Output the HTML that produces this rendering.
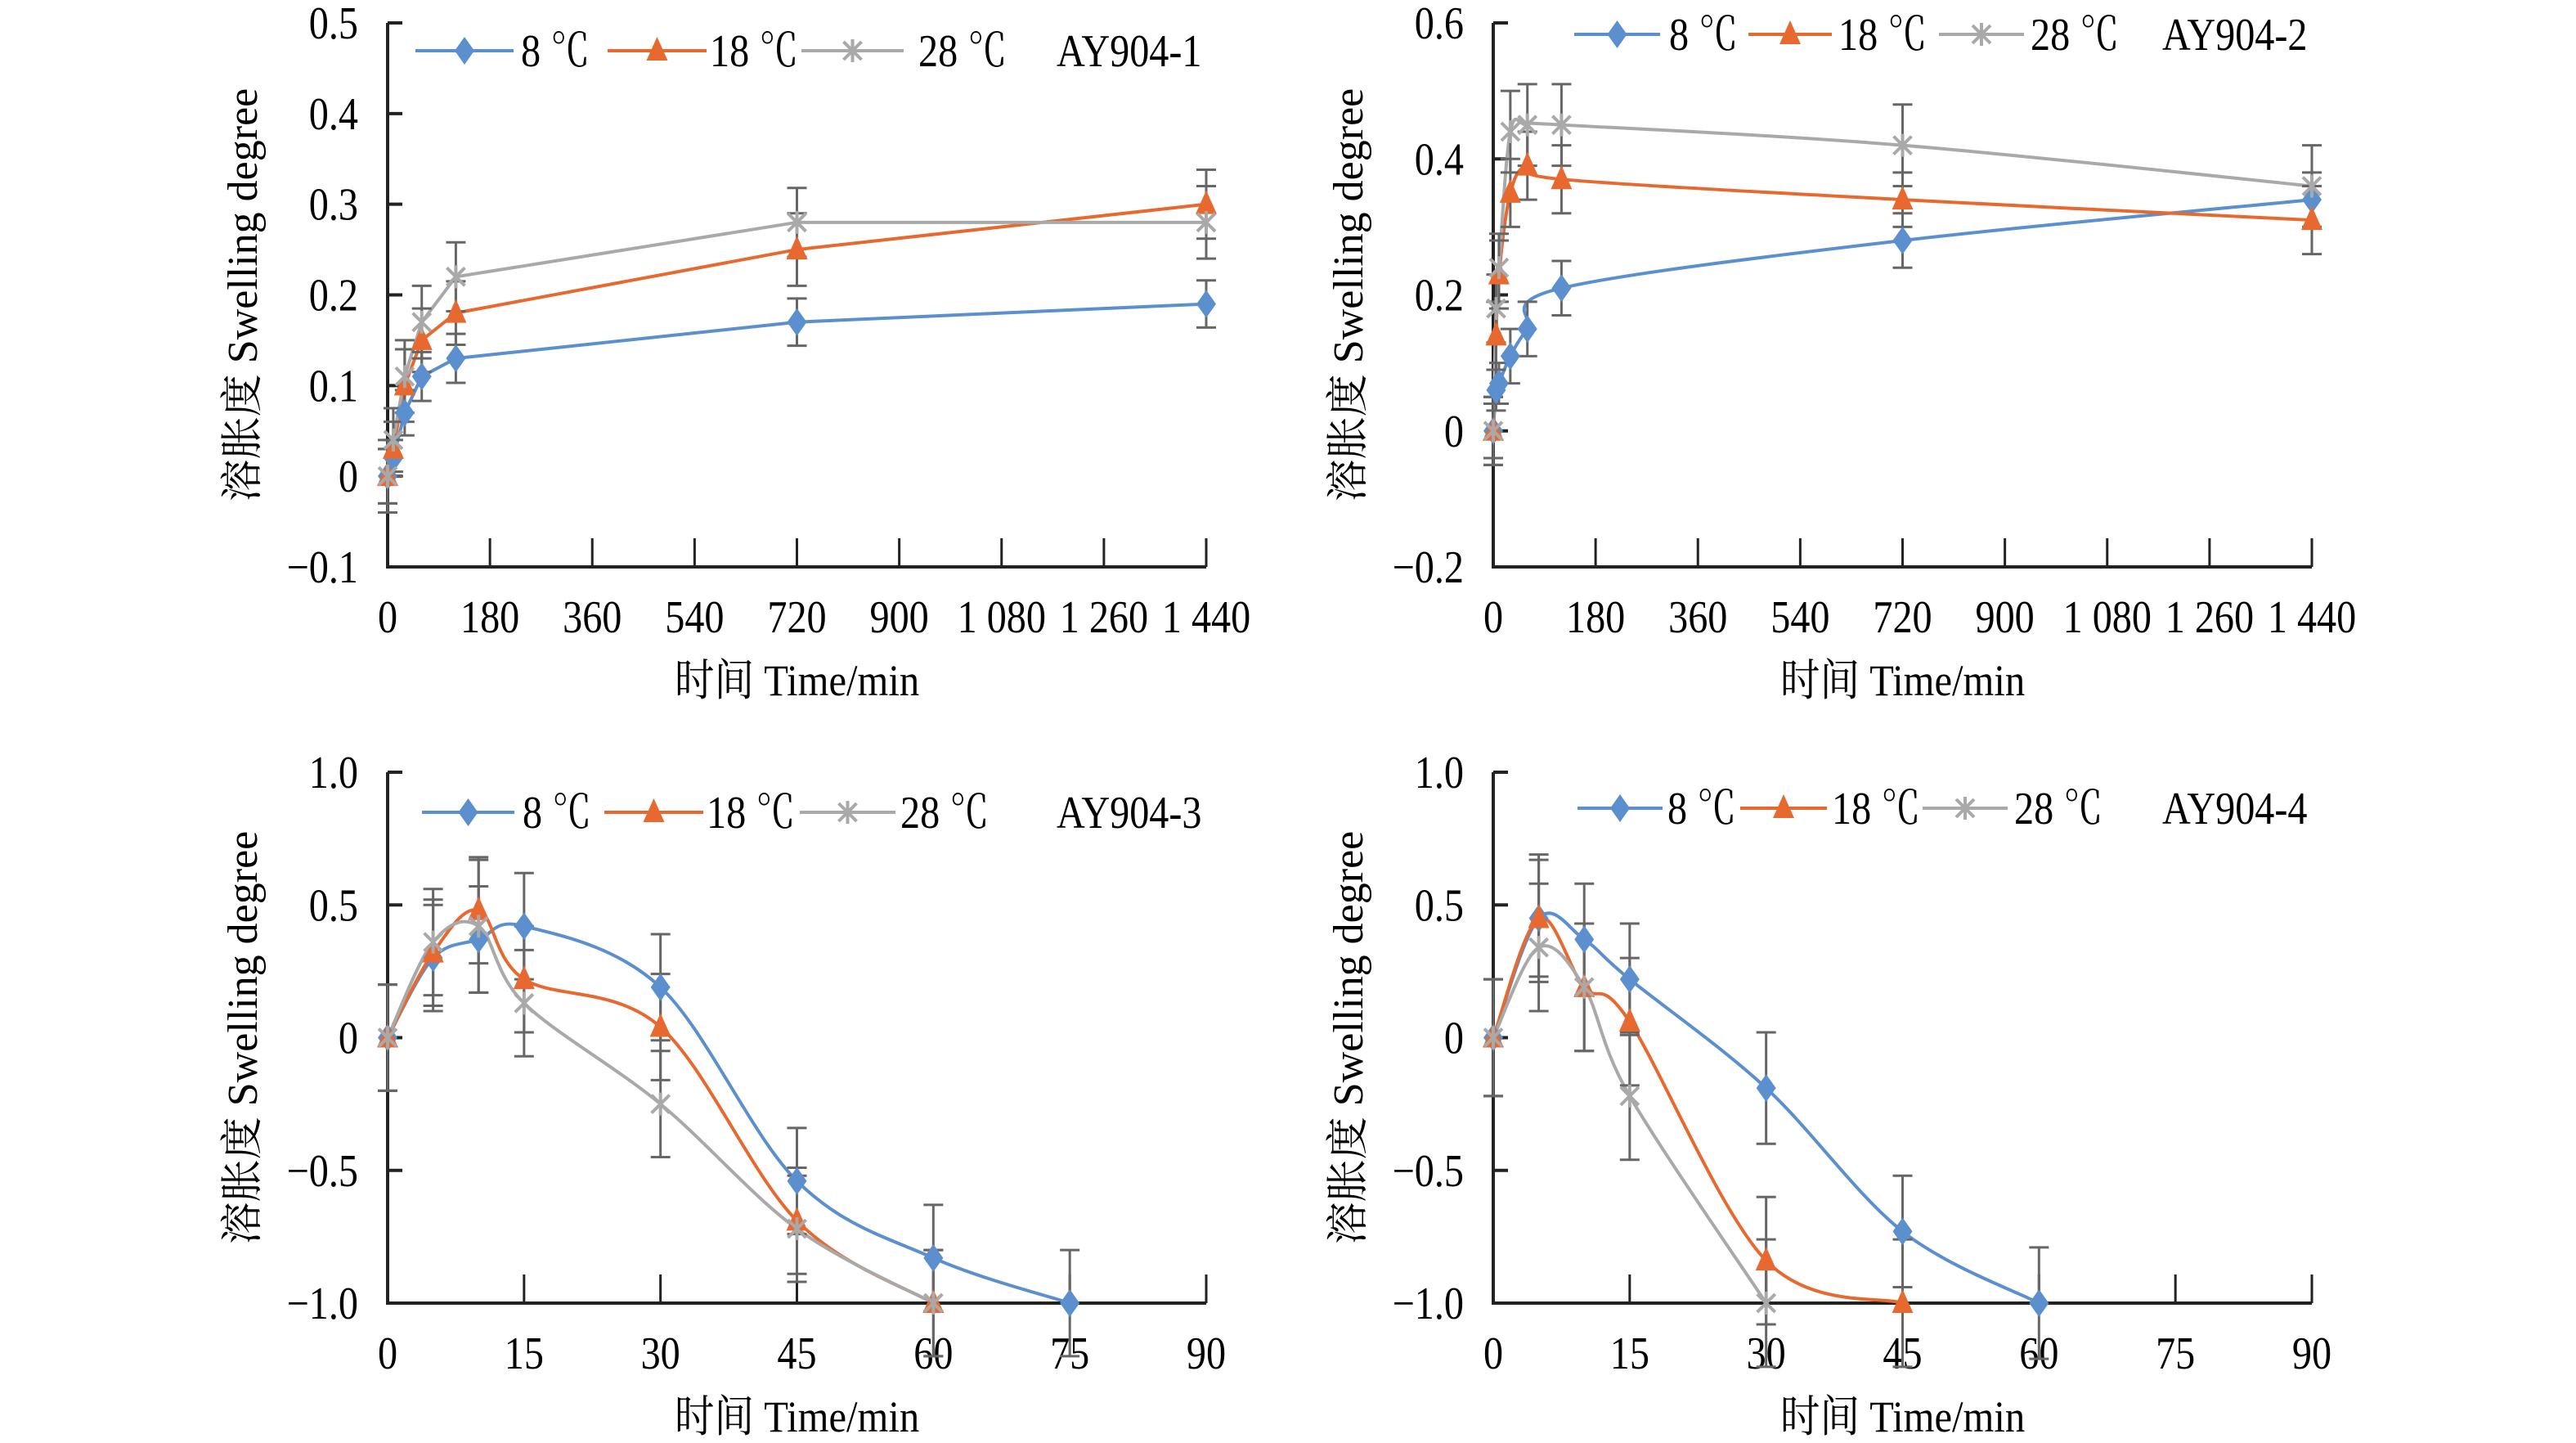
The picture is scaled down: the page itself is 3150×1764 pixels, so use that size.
<!DOCTYPE html>
<html><head><meta charset="utf-8"><style>
html,body{margin:0;padding:0;background:#fff}
svg{display:block}
text{font-family:"Liberation Serif","Noto Serif CJK SC",serif;fill:#000}
</style></head><body>
<svg id="fig" width="3150" height="1764" viewBox="0 0 3150 1764" xmlns="http://www.w3.org/2000/svg"></svg>
<script>
// ---- Panel 1 (AY904-1)
const p1Times = [0, 10, 30, 60, 120, 720, 1440];
const p1S8  = [0, 0.02, 0.07, 0.11, 0.13, 0.17, 0.19];
const p1S18 = [0, 0.03, 0.10, 0.15, 0.18, 0.25, 0.30];
const p1S28 = [0, 0.04, 0.11, 0.17, 0.22, 0.28, 0.28];
const p1E8  = [0.03, 0.02, 0.025, 0.027, 0.027, 0.026, 0.026];
const p1E18 = [0.03, 0.03, 0.04, 0.035, 0.035, 0.04, 0.038];
const p1E28 = [0.04, 0.035, 0.04, 0.04, 0.038, 0.038, 0.04];
// ---- Panel 2 (AY904-2)
const p2Times = [0, 5, 10, 30, 60, 120, 720, 1440];
const p2S8  = [0, 0.06, 0.07, 0.11, 0.15, 0.21, 0.28, 0.34];
const p2S18 = [0, 0.14, 0.23, 0.35, 0.39, 0.37, 0.34, 0.31];
const p2S28 = [0, 0.18, 0.24, 0.44, 0.45, 0.45, 0.42, 0.36];
const p2E8  = [0.04, 0.03, 0.03, 0.04, 0.04, 0.04, 0.04, 0.04];
const p2E18 = [0.05, 0.05, 0.05, 0.05, 0.05, 0.05, 0.04, 0.05];
const p2E28 = [0.05, 0.05, 0.05, 0.06, 0.06, 0.06, 0.06, 0.06];
// ---- Panel 3 (AY904-3)
const p3Times8  = [0, 5, 10, 15, 30, 45, 60, 75];
const p3S8  = [0, 0.30, 0.37, 0.42, 0.19, -0.54, -0.83, -1.0];
const p3E8  = [0.2, 0.2, 0.2, 0.2, 0.2, 0.2, 0.2, 0.2];
const p3Times18 = [0, 5, 10, 15, 30, 45, 60];
const p3S18 = [0, 0.32, 0.48, 0.22, 0.04, -0.69, -1.0];
const p3E18 = [0.2, 0.2, 0.2, 0.2, 0.2, 0.2, 0.2];
const p3Times28 = [0, 5, 10, 15, 30, 45, 60];
const p3S28 = [0, 0.36, 0.42, 0.13, -0.25, -0.72, -1.0];
const p3E28 = [0.2, 0.2, 0.25, 0.2, 0.2, 0.2, 0.2];
// ---- Panel 4 (AY904-4)
const p4Times8  = [0, 5, 10, 15, 30, 45, 60];
const p4S8  = [0, 0.45, 0.37, 0.22, -0.19, -0.73, -1.0];
const p4E8  = [0.22, 0.22, 0.21, 0.21, 0.21, 0.21, 0.21];
const p4Times18 = [0, 5, 10, 15, 30, 45];
const p4S18 = [0, 0.45, 0.19, 0.06, -0.84, -1.0];
const p4E18 = [0.22, 0.24, 0.24, 0.24, 0.24, 0.24];
const p4Times28 = [0, 5, 10, 15, 30];
const p4S28 = [0, 0.34, 0.19, -0.22, -1.0];
const p4E28 = [0.22, 0.24, 0.24, 0.24, 0.24];
// ---- tick labels
const xTicksLong = [0, 180, 360, 540, 720, 900, 1080, 1260, 1440];
const xTickLabelsLong = ["0","180","360","540","720","900","1 080","1 260","1 440"];
const xTicksShort = [0, 15, 30, 45, 60, 75, 90];
const yTicks1 = [-0.1, 0, 0.1, 0.2, 0.3, 0.4, 0.5];
const yTickLabels1 = ["\u22120.1","0","0.1","0.2","0.3","0.4","0.5"];
const yTicks2 = [-0.2, 0, 0.2, 0.4, 0.6];
const yTickLabels2 = ["\u22120.2","0","0.2","0.4","0.6"];
const yTicks3 = [-1.0, -0.5, 0, 0.5, 1.0];
const yTickLabels3 = ["\u22121.0","\u22120.5","0","0.5","1.0"];
const seriesNames = ["8 \u2103","18 \u2103","28 \u2103"];

const NS = "http://www.w3.org/2000/svg";
const svg = document.getElementById('fig');
const C = ["#5B8FCE", "#E8692F", "#A9A9A9"];
function mk(tag, attrs, parent){ const e=document.createElementNS(NS,tag); for(const k in attrs) e.setAttribute(k,attrs[k]); (parent||svg).appendChild(e); return e; }
function txt(s, x, y, anchor, size, parent, sx){
  const t = mk('text',{x:0,y:0,'text-anchor':anchor,'font-size':size,transform:`translate(${x},${y}) scale(${sx||0.86},1)`},parent);
  t.textContent=s; return t;
}
function marker(g, type, x, y, color){
  let m;
  if(type===0){ m=mk('path',{d:`M${x},${y-17}L${x+12},${y}L${x},${y+17}L${x-12},${y}Z`,fill:color},g); }
  else if(type===1){ m=mk('path',{d:`M${x},${y-17}L${x+13},${y+12}L${x-13},${y+12}Z`,fill:color},g); }
  else { m=mk('path',{d:`M${x-11},${y-11}L${x+11},${y+11}M${x+11},${y-11}L${x-11},${y+11}M${x},${y-14}L${x},${y+14}`,stroke:color,'stroke-width':4,fill:'none'},g); }
  
  
}
function smoothPath(pts){
  let d=`M${pts[0][0]},${pts[0][1]}`;
  for(let i=0;i<pts.length-1;i++){
    const p0=pts[i-1]||pts[i], p1=pts[i], p2=pts[i+1], p3=pts[i+2]||p2;
    const t=6;
    d+=`C${p1[0]+(p2[0]-p0[0])/t},${p1[1]+(p2[1]-p0[1])/t} ${p2[0]-(p3[0]-p1[0])/t},${p2[1]-(p3[1]-p1[1])/t} ${p2[0]},${p2[1]}`;
  }
  return d;
}
function panel(cfg){
  const g = mk('g',{});
  
  
  const X = v => cfg.x0 + (v - cfg.xmin)/(cfg.xmax - cfg.xmin)*(cfg.x1 - cfg.x0);
  const Y = v => cfg.y0 - (v - cfg.ymin)/(cfg.ymax - cfg.ymin)*(cfg.y0 - cfg.y1);
  const ax = mk('path',{d:`M${cfg.x0},${cfg.y1}V${cfg.y0}H${cfg.x1}`,stroke:'#222','stroke-width':4,fill:'none'},g);
   
  cfg.yt.forEach((v,i)=>{
    mk('line',{x1:cfg.x0,x2:cfg.x0+18,y1:Y(v),y2:Y(v),stroke:'#222','stroke-width':4},g);
    const t=txt(cfg.ytl[i], cfg.x0-36, Y(v)+19, 'end', 56, g);
     
  });
  cfg.xt.forEach((v,i)=>{
    mk('line',{x1:X(v),x2:X(v),y1:cfg.y0,y2:cfg.y0-35,stroke:'#222','stroke-width':3},g);
    const t=txt(cfg.xtl[i], X(v), cfg.y0+80, 'middle', 56, g);
     
  });
  cfg.series.forEach((s,si)=>{
    const pts = s.t.map((tv,i)=>[X(tv),Y(s.v[i])]);
    const ln = mk('path',{d: cfg.smooth ? smoothPath(pts) : 'M'+pts.map(p=>p.join(',')).join('L'), stroke:C[si],'stroke-width':4,fill:'none'},g);
    
    
  });
  cfg.series.forEach((s,si)=>{
    s.t.forEach((tv,i)=>{
      const x=X(tv), yt=Y(s.v[i]+s.e[i]), yb=Y(s.v[i]-s.e[i]);
      const eb = mk('path',{d:`M${x},${yt}V${yb}M${x-12},${yt}H${x+12}M${x-12},${yb}H${x+12}`,stroke:'#666','stroke-width':3,fill:'none'},g);
       
    });
  });
  cfg.series.forEach((s,si)=>{ s.t.forEach((tv,i)=>marker(g, si, X(tv), Y(s.v[i]), C[si])); });
  const lg = mk('g',{},g);
   
  cfg.leg.forEach((l,si)=>{
    mk('line',{x1:l[0],x2:l[1],y1:cfg.ly,y2:cfg.ly,stroke:C[si],'stroke-width':4},lg);
    marker(lg, si, (l[0]+l[1])/2, cfg.ly, C[si]);
    const t=txt(seriesNames[si], l[2], cfg.ly+19, 'start', 56, lg);
     
  });
  const ttl = txt(cfg.title, cfg.tx, cfg.ly+19, 'start', 56, g);
   
  const xt = txt('时间 Time/min', (cfg.x0+cfg.x1)/2, cfg.y0+157, 'middle', 54, g, 0.9);
   
  const yt = mk('text',{x:0,y:0,'text-anchor':'middle','font-size':52,transform:`translate(${cfg.x0-160},${(cfg.y0+cfg.y1)/2}) rotate(-90)`},g);
  yt.textContent='溶胀度 Swelling degree';
   
}
panel({name:'panel-ay904-1',x0:474,x1:1475,y0:693,y1:28,xmin:0,xmax:1440,ymin:-0.1,ymax:0.5,
  xt:xTicksLong,xtl:xTickLabelsLong,yt:yTicks1,ytl:yTickLabels1,smooth:false,
  series:[{t:p1Times,v:p1S8,e:p1E8},{t:p1Times,v:p1S18,e:p1E18},{t:p1Times,v:p1S28,e:p1E28}],
  ly:62,leg:[[508,628,637],[743,864,868],[980,1105,1123]],tx:1292,title:'AY904-1'});
panel({name:'panel-ay904-2',x0:1826,x1:2827,y0:693,y1:28,xmin:0,xmax:1440,ymin:-0.2,ymax:0.6,
  xt:xTicksLong,xtl:xTickLabelsLong,yt:yTicks2,ytl:yTickLabels2,smooth:true,
  series:[{t:p2Times,v:p2S8,e:p2E8},{t:p2Times,v:p2S18,e:p2E18},{t:p2Times,v:p2S28,e:p2E28}],
  ly:42,leg:[[1925,2030,2041],[2138,2240,2248],[2371,2475,2483]],tx:2644,title:'AY904-2'});
panel({name:'panel-ay904-3',x0:474,x1:1475,y0:1593,y1:944,xmin:0,xmax:90,ymin:-1,ymax:1,
  xt:xTicksShort,xtl:xTicksShort.map(String),yt:yTicks3,ytl:yTickLabels3,smooth:true,
  series:[{t:p3Times8,v:p3S8,e:p3E8},{t:p3Times18,v:p3S18,e:p3E18},{t:p3Times28,v:p3S28,e:p3E28}],
  ly:993,leg:[[516,629,639],[739,860,864],[978,1095,1101]],tx:1292,title:'AY904-3'});
panel({name:'panel-ay904-4',x0:1826,x1:2827,y0:1593,y1:944,xmin:0,xmax:90,ymin:-1,ymax:1,
  xt:xTicksShort,xtl:xTicksShort.map(String),yt:yTicks3,ytl:yTickLabels3,smooth:true,
  series:[{t:p4Times8,v:p4S8,e:p4E8},{t:p4Times18,v:p4S18,e:p4E18},{t:p4Times28,v:p4S28,e:p4E28}],
  ly:988,leg:[[1929,2033,2039],[2128,2234,2240],[2351,2455,2463]],tx:2644,title:'AY904-4'});
</script>
</body></html>
